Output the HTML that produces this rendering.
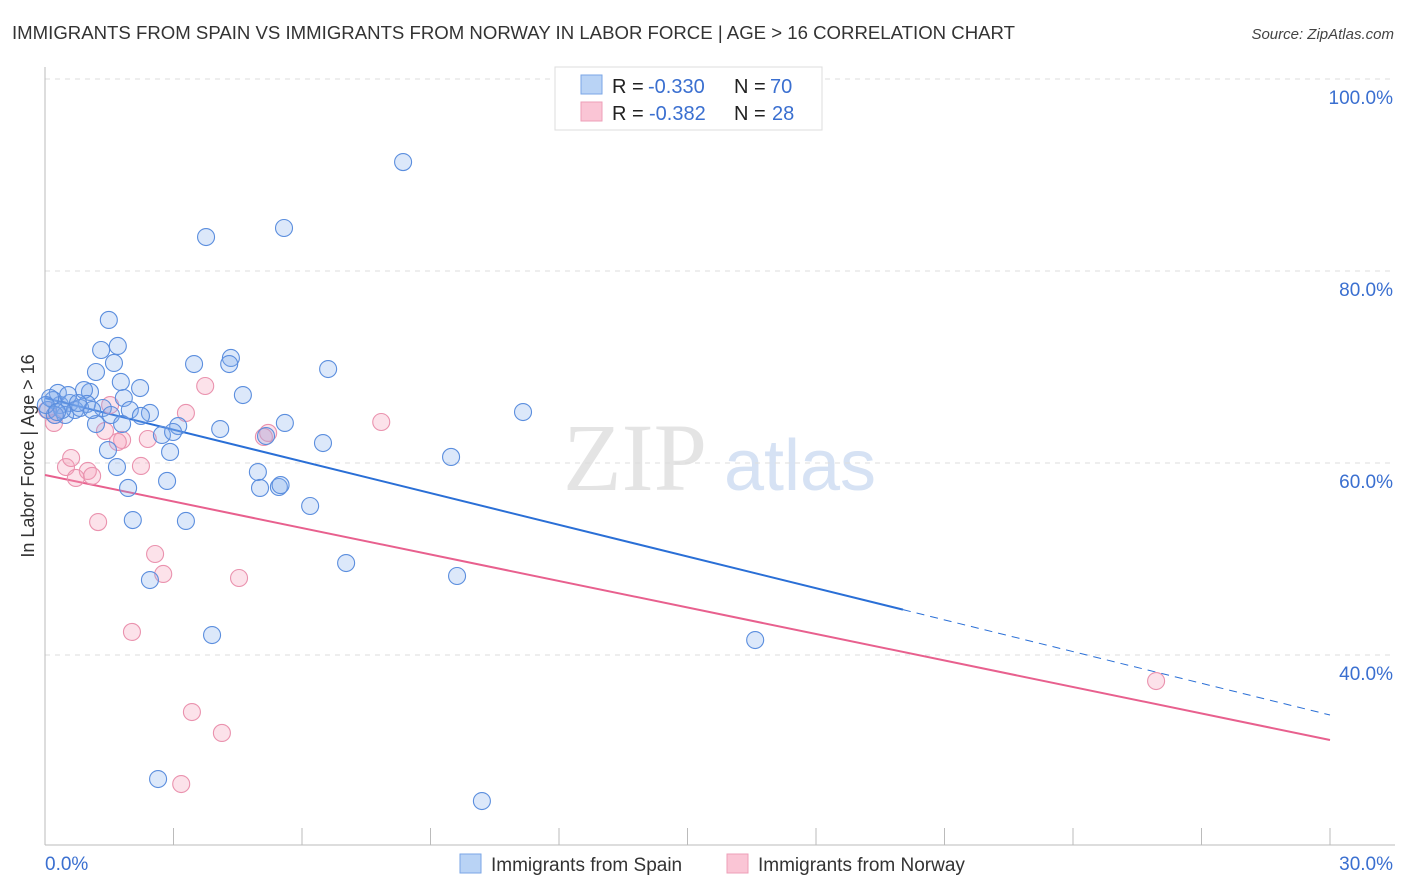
<!DOCTYPE html>
<html><head><meta charset="utf-8"><style>
body{margin:0;background:#fff;font-family:"Liberation Sans",sans-serif;}
svg{display:block}
</style></head><body>
<svg id="chart" width="1406" height="892" font-family="Liberation Sans, sans-serif">
<text x="12" y="39" font-size="18" fill="#333" textLength="1003" lengthAdjust="spacingAndGlyphs">IMMIGRANTS FROM SPAIN VS IMMIGRANTS FROM NORWAY IN LABOR FORCE | AGE &gt; 16 CORRELATION CHART</text>
<text x="1394" y="39" font-size="15" font-style="italic" fill="#444" text-anchor="end">Source: ZipAtlas.com</text>
<g>
<text x="635" y="490" font-size="96" font-family="Liberation Serif, serif" fill="#e4e4e4" text-anchor="middle">ZIP</text>
<text x="800" y="490" font-size="72" fill="#d6e2f4" text-anchor="middle">atlas</text>
</g>
<g id="grid"></g>
<g id="axes"></g>
<g id="lines"></g>
<g id="points"></g>
<text transform="translate(34,456) rotate(-90)" font-size="18" fill="#333" text-anchor="middle">In Labor Force | Age &gt; 16</text>
<g>
<rect x="555" y="67" width="267" height="63" fill="#fff" stroke="#ddd"/>
<rect x="581" y="75" width="21" height="19" fill="#b9d3f5" stroke="#7aa6e6"/>
<rect x="581" y="102" width="21" height="19" fill="#fac5d5" stroke="#ee9fb8"/>
<g font-size="20">
<text x="612" y="93" fill="#222">R =</text><text x="648" y="93" fill="#3a6fd0">-0.330</text>
<text x="734" y="93" fill="#222">N =</text><text x="770" y="93" fill="#3a6fd0">70</text></g>
<g font-size="20">
<text x="612" y="120" fill="#222">R =</text><text x="649" y="120" fill="#3a6fd0">-0.382</text>
<text x="734" y="120" fill="#222">N =</text><text x="772" y="120" fill="#3a6fd0">28</text></g>
</g>
<g>
<rect x="460" y="854" width="21" height="19" fill="#b9d3f5" stroke="#7aa6e6"/>
<text x="491" y="871" font-size="19" fill="#333">Immigrants from Spain</text>
<rect x="727" y="854" width="21" height="19" fill="#fac5d5" stroke="#ee9fb8"/>
<text x="758" y="871" font-size="19" fill="#333">Immigrants from Norway</text>
</g>
</svg>
<script>
const yTicks=[100,80,60,40];
const yTickLabels=["100.0%","80.0%","60.0%","40.0%"];
const xTickCount=10;
const xLabels=["0.0%","30.0%"];
const spainX=[8.36,3.76,5.58,1.49,1.31,1.70,1.61,3.48,4.34,4.30,6.61,1.19,1.77,2.22,1.05,0.91,0.30,4.62,1.84,0.35,0.58,0.98,1.35,1.98,2.45,1.54,2.24,0.47,0.70,0.19,0.07,11.16,5.60,3.11,1.80,1.19,2.73,4.09,2.99,5.16,6.49,1.47,2.92,9.48,1.68,4.97,2.85,1.94,5.02,5.46,5.50,6.19,2.05,3.29,7.03,2.45,9.62,3.90,16.58,2.64,10.2,0.12,0.40,0.23,0.82,0.02,0.54,0.28,1.10,0.77];
const spainY=[91.35,83.54,84.48,74.9,71.77,72.19,70.42,70.31,70.94,70.31,69.79,69.48,68.44,67.81,67.4,67.6,67.3,67.08,66.77,66.04,66.25,66.15,65.73,65.52,65.21,65.0,64.9,65.0,65.52,66.56,65.52,65.31,64.17,63.85,64.06,64.06,62.92,63.54,63.23,62.81,62.08,61.35,61.15,60.63,59.58,59.06,58.13,57.4,57.4,57.5,57.7,55.52,54.06,53.96,49.58,47.81,48.23,42.08,41.56,27.08,24.79,66.77,65.52,65.0,65.73,66.04,67.08,65.31,65.52,66.25];
const norwayX=[3.74,3.29,7.85,0.21,5.21,1.40,1.80,2.40,1.70,5.11,2.24,0.49,0.61,1.00,0.72,1.10,1.24,2.57,2.76,4.53,2.03,3.43,4.13,3.18,25.94,0.05,0.23,1.52];
const norwayY=[68.02,65.21,64.27,64.17,63.13,63.33,62.4,62.5,62.19,62.71,59.69,59.58,60.52,59.17,58.44,58.65,53.85,50.52,48.44,48.02,42.4,34.06,31.88,26.56,37.29,65.52,65.0,66.04];
const spainTrend=[66.77,33.75];
const spainSolidEnd=20.03;
const norwayTrend=[58.75,31.15];

const X0=45,X1=1330,xMax=30;
const sx=v=>X0+(v/xMax)*(X1-X0);
const sy=v=>79+(100-v)*9.6;
const NS="http://www.w3.org/2000/svg";
function mk(tag,attrs,parent){const e=document.createElementNS(NS,tag);for(const k in attrs)e.setAttribute(k,attrs[k]);parent.appendChild(e);return e;}
const grid=document.getElementById('grid'),axes=document.getElementById('axes'),lines=document.getElementById('lines'),pts=document.getElementById('points');
yTicks.forEach((t,i)=>{
 const l=mk('line',{x1:X0,x2:1395,y1:sy(t),y2:sy(t),stroke:'#ddd','stroke-dasharray':'5,5'},grid);
 
 
 const tx=mk('text',{x:1393,y:sy(t)+25,'font-size':19,fill:'#3a6fd0','text-anchor':'end'},axes);
 tx.textContent=yTickLabels[i];
 
 
});
const ya=mk('line',{x1:X0,x2:X0,y1:67,y2:845,stroke:'#bbb'},axes);


const xa=mk('line',{x1:X0,x2:1395,y1:845,y2:845,stroke:'#bbb'},axes);


for(let i=1;i<=xTickCount;i++){
 const v=i*xMax/xTickCount;
 const t=mk('line',{x1:sx(v),x2:sx(v),y1:828,y2:845,stroke:'#bbb'},axes);
 
 
}
const xl0=mk('text',{x:45,y:870,'font-size':19,fill:'#3a6fd0'},axes);xl0.textContent=xLabels[0];


const xl1=mk('text',{x:1393,y:870,'font-size':19,fill:'#3a6fd0','text-anchor':'end'},axes);xl1.textContent=xLabels[1];



function drawPts(xs,ys,fill,stroke,name){
 xs.forEach((x,i)=>{
  const c=mk('circle',{cx:sx(x),cy:sy(ys[i]),r:8.5,fill:fill,stroke:stroke,'stroke-width':1.1},pts);
  
  
 });
}
const lin=(tr,x)=>tr[0]+(tr[1]-tr[0])*x/xMax;
drawPts(norwayX,norwayY,'rgba(244,160,185,0.3)','#ea92ae','point-norway');
drawPts(spainX,spainY,'rgba(130,172,238,0.28)','#5b8ede','point-spain');
let l1=mk('line',{x1:sx(0),y1:sy(lin(spainTrend,0)),x2:sx(spainSolidEnd),y2:sy(lin(spainTrend,spainSolidEnd)),stroke:'#2a6fd6','stroke-width':2},lines);


let l2=mk('line',{x1:sx(spainSolidEnd),y1:sy(lin(spainTrend,spainSolidEnd)),x2:sx(xMax),y2:sy(lin(spainTrend,xMax)),stroke:'#2a6fd6','stroke-width':1,'stroke-dasharray':'8,6'},lines);


let l3=mk('line',{x1:sx(0),y1:sy(lin(norwayTrend,0)),x2:sx(xMax),y2:sy(lin(norwayTrend,xMax)),stroke:'#e8608e','stroke-width':2},lines);


</script>
</body></html>
